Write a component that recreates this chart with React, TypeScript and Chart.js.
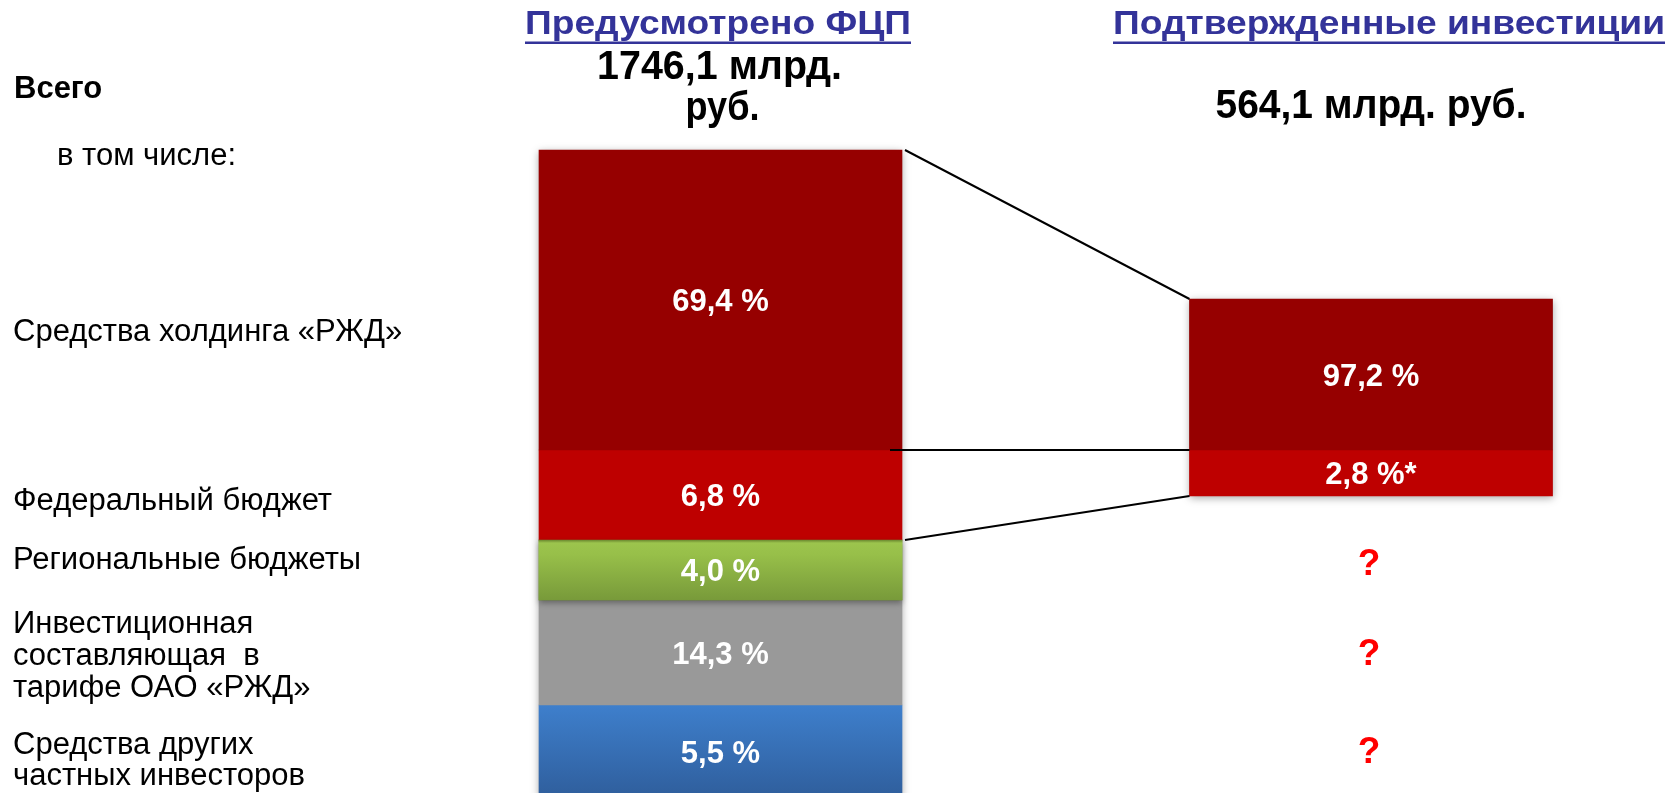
import React, { useEffect, useRef } from 'react';
import { Chart, registerables } from 'chart.js';

Chart.register(...registerables);

// ---- data ----
const columns = ['Предусмотрено ФЦП', 'Подтвержденные инвестиции'];
const columnTotals = [1746.1, 564.1];
const sources = [
  'Средства холдинга «РЖД»',
  'Федеральный бюджет',
  'Региональные бюджеты',
  'Инвестиционная составляющая в тарифе ОАО «РЖД»',
  'Средства других частных инвесторов',
];
const planShares = [69.4, 6.8, 4.0, 14.3, 5.5];
const confirmedShares: (number | null)[] = [97.2, 2.8, null, null, null];
const confirmedNotes = ['', '*', '?', '?', '?'];
// schematic band heights as drawn in the picture (the scheme is not to scale)
const planBandHeights = [30, 9, 6, 10.5, 9.3];
const confirmedBandHeights: (number | null)[] = [15.1, 4.6, null, null, null];

// ---- styling / layout ----
const FONT = '"Liberation Sans", Arial, sans-serif';
const flatColors = ['#960000', '#be0000', '#8cb044', '#999999', '#3870b8'];
const sourceLabelLines = [
  ['Средства холдинга «РЖД»'],
  ['Федеральный бюджет'],
  ['Региональные бюджеты'],
  ['Инвестиционная', 'составляющая  в', 'тарифе ОАО «РЖД»'],
  ['Средства других', 'частных инвесторов'],
];
const sourceLabelBaselines = [[341], [510], [569], [633, 665, 697], [754, 785]];
const questionCenters = [562, 652, 750];

const fmt = (v: number) => v.toFixed(1).replace('.', ',');

function bandBounds(dsIndex: number, dataIndex: number): [number, number] {
  const h = dataIndex === 0 ? planBandHeights : confirmedBandHeights;
  if (dsIndex === 0) return [h[0] as number, 0];
  let start = 0;
  for (let k = 1; k < dsIndex; k++) start -= (h[k] as number) || 0;
  return [start, start - ((h[dsIndex] as number) || 0)];
}

function gradientFor(dsIndex: number, stops: [number, string][]) {
  return (c: any) => {
    if (c.type !== 'data') return flatColors[dsIndex];
    const ys = c.chart.scales && c.chart.scales.y;
    if (!ys) return flatColors[dsIndex];
    const [a, b] = bandBounds(dsIndex, c.dataIndex);
    const top = ys.getPixelForValue(a);
    const bot = ys.getPixelForValue(b);
    if (!isFinite(top) || !isFinite(bot) || top === bot) return flatColors[dsIndex];
    const g = c.chart.ctx.createLinearGradient(0, top, 0, bot);
    stops.forEach(([o, col]) => g.addColorStop(o, col));
    return g;
  };
}

function drawText(
  ctx: CanvasRenderingContext2D,
  text: string,
  x: number,
  baseline: number,
  size: number,
  weight: string,
  color: string,
  align: CanvasTextAlign,
  targetWidth?: number
) {
  ctx.save();
  ctx.font = `${weight} ${size}px ${FONT}`;
  ctx.fillStyle = color;
  ctx.textBaseline = 'alphabetic';
  ctx.textAlign = align;
  const w = ctx.measureText(text).width;
  const sx = targetWidth ? targetWidth / w : 1;
  ctx.translate(x, baseline);
  ctx.scale(sx, 1);
  ctx.fillText(text, 0, 0);
  ctx.restore();
  return w * sx;
}

const overlayPlugin = {
  id: 'overlay',
  beforeDatasetsDraw(chart: any) {
    const ctx: CanvasRenderingContext2D = chart.ctx;
    for (let col = 0; col < columns.length; col++) {
      let top = Infinity, bot = -Infinity, x = 0, w = 0;
      chart.data.datasets.forEach((_: any, di: number) => {
        const el = chart.getDatasetMeta(di).data[col];
        const v = chart.data.datasets[di].data[col];
        if (!el || v == null || el.y == null || isNaN(el.y)) return;
        top = Math.min(top, el.y, el.base);
        bot = Math.max(bot, el.y, el.base);
        x = el.x;
        w = el.width;
      });
      if (!isFinite(top)) continue;
      ctx.save();
      ctx.shadowColor = 'rgba(0,0,0,0.35)';
      ctx.shadowBlur = 8;
      ctx.shadowOffsetY = 2;
      ctx.fillStyle = '#888';
      ctx.fillRect(x - w / 2, top, w, bot - top);
      ctx.restore();
    }
  },
  afterDatasetsDraw(chart: any) {
    const ctx: CanvasRenderingContext2D = chart.ctx;
    const green = chart.getDatasetMeta(2).data[0];
    if (green) {
      ctx.save();
      ctx.shadowColor = 'rgba(0,0,0,0.35)';
      ctx.shadowBlur = 6;
      ctx.shadowOffsetY = 3;
      green.draw(ctx);
      ctx.restore();
    }

    // connector lines
    const lHold = chart.getDatasetMeta(0).data[0];
    const rHold = chart.getDatasetMeta(0).data[1];
    const lFed = chart.getDatasetMeta(1).data[0];
    const rFed = chart.getDatasetMeta(1).data[1];
    const lRight = lHold.x + lHold.width / 2;
    const rLeft = rHold.x - rHold.width / 2;
    ctx.save();
    ctx.strokeStyle = '#000';
    ctx.lineWidth = 2;
    ctx.beginPath();
    ctx.moveTo(lRight + 3, lHold.y);
    ctx.lineTo(rLeft, rHold.y);
    ctx.moveTo(lRight - 12, lHold.base);
    ctx.lineTo(rLeft, rHold.base);
    ctx.moveTo(lRight + 3, lFed.y);
    ctx.lineTo(rLeft, rFed.y);
    ctx.stroke();
    ctx.restore();

    // values inside bands
    const valSize = 31;
    const capH = valSize * 0.716;
    [planShares, confirmedShares].forEach((shares, col) => {
      shares.forEach((s, di) => {
        if (s == null) return;
        const el = chart.getDatasetMeta(di).data[col];
        const cy = (el.y + el.base) / 2;
        const note = col === 1 ? confirmedNotes[di] : '';
        drawText(ctx, `${fmt(s)} %${note}`, el.x, cy + capH / 2, valSize, 'bold', '#ffffff', 'center');
      });
    });

    // headers
    const xs = chart.scales.x;
    const headerCenters = [718, 1389];
    const headerWidths = [386, 552];
    columns.forEach((t, i) => {
      const w = drawText(ctx, t, headerCenters[i], 34, 33, 'bold', '#333399', 'center', headerWidths[i]);
      ctx.save();
      ctx.fillStyle = '#333399';
      ctx.fillRect(headerCenters[i] - w / 2, 41.5, w, 2.5);
      ctx.restore();
    });
    // totals
    const c0 = xs.getPixelForValue(0);
    const c1 = xs.getPixelForValue(1);
    drawText(ctx, `${fmt(columnTotals[0])} млрд.`, c0 - 1, 79, 41, 'bold', '#000', 'center', 245);
    drawText(ctx, 'руб.', c0 + 2, 120, 41, 'bold', '#000', 'center', 74);
    drawText(ctx, `${fmt(columnTotals[1])} млрд. руб.`, c1, 118, 41, 'bold', '#000', 'center', 311);

    // left labels
    drawText(ctx, 'Всего', 14, 98, 31, 'bold', '#000', 'left');
    drawText(ctx, 'в том числе:', 57, 165, 31, 'normal', '#000', 'left');
    sourceLabelLines.forEach((lines, i) => {
      lines.forEach((ln, j) => {
        drawText(ctx, ln, 13, sourceLabelBaselines[i][j], 31, 'normal', '#000', 'left');
      });
    });

    // unknown confirmed shares
    let q = 0;
    confirmedNotes.forEach((n) => {
      if (n !== '?') return;
      drawText(ctx, '?', c1 - 2, questionCenters[q] + 13, 37, 'bold', '#ff0000', 'center');
      q++;
    });
  },
};

export default function App() {
  const ref = useRef<HTMLCanvasElement | null>(null);
  useEffect(() => {
    if (!ref.current) return;
    const greenStops: [number, string][] = [
      [0, '#6c8a30'],
      [0.05, '#9cc44d'],
      [0.25, '#97bf49'],
      [1, '#789a3a'],
    ];
    const blueStops: [number, string][] = [
      [0, '#3e7fcc'],
      [1, '#2f5e9c'],
    ];
    const datasets = sources.map((name, i) => {
      const sign = i === 0 ? 1 : -1;
      const pv = planBandHeights[i];
      const cv = confirmedBandHeights[i];
      let bg: any = flatColors[i];
      if (i === 2) bg = gradientFor(2, greenStops);
      if (i === 4) bg = gradientFor(4, blueStops);
      return {
        label: name,
        data: [sign * pv, cv == null ? null : sign * cv],
        backgroundColor: bg,
        borderWidth: 0,
        barThickness: 363,
        clip: false as any,
      };
    });
    const chart = new Chart(ref.current, {
      type: 'bar',
      data: { labels: columns, datasets },
      options: {
        animation: false,
        responsive: true,
        maintainAspectRatio: false,
        layout: { padding: { left: 720.5, right: 301, top: 150, bottom: 0 } },
        plugins: { legend: { display: false }, tooltip: { enabled: false }, title: { display: false } },
        scales: {
          x: { type: 'category', stacked: true, offset: false, display: false },
          y: { type: 'linear', stacked: true, min: -34.3, max: 30, display: false },
        },
      },
      plugins: [overlayPlugin],
    });
    return () => chart.destroy();
  }, []);
  return (
    <div style={{ position: 'fixed', left: 0, top: 0, width: 1672, height: 793, background: '#fff' }}>
      <canvas ref={ref} />
    </div>
  );
}
